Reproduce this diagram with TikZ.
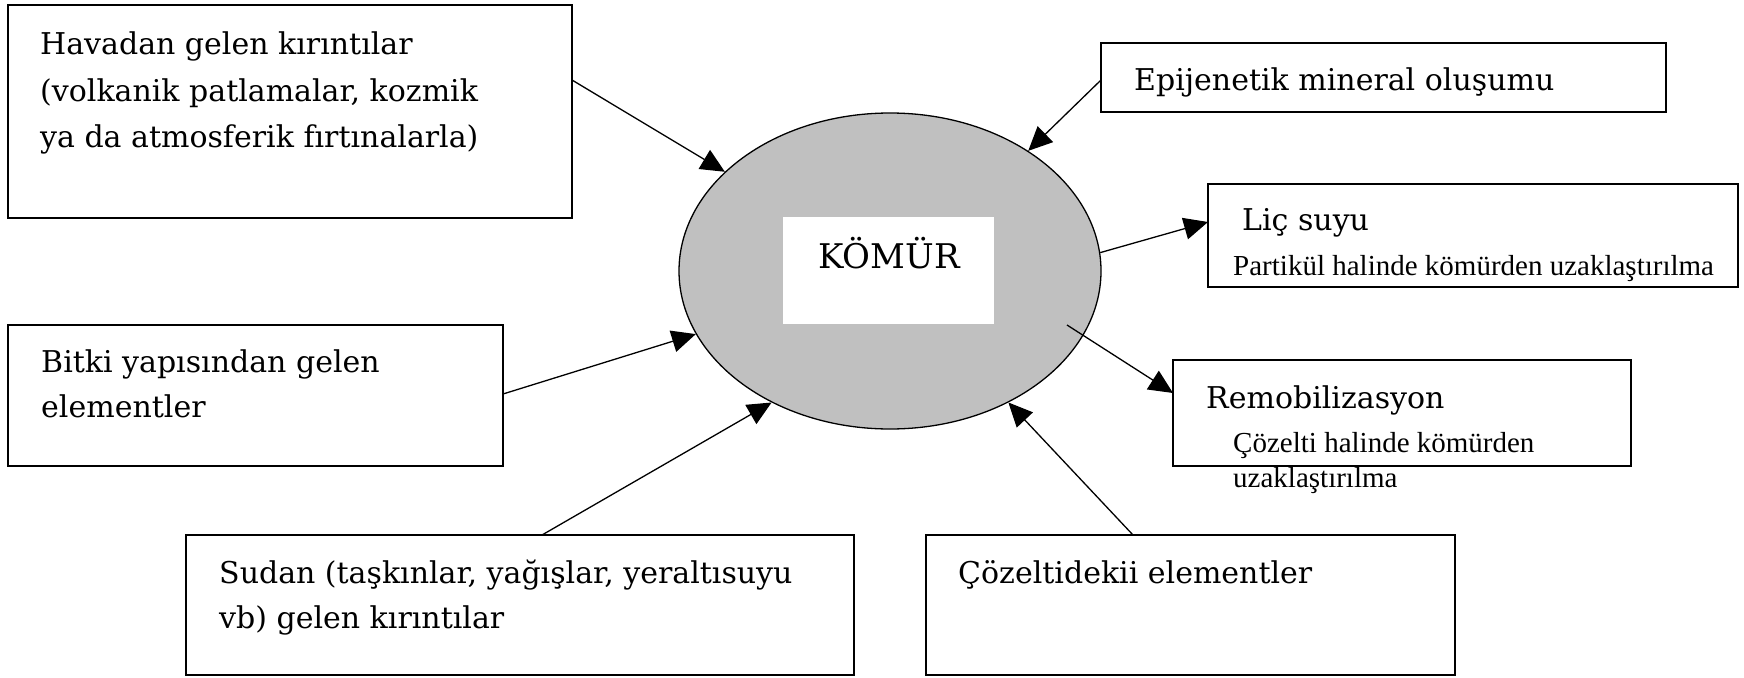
\documentclass[tikz,border=0pt]{standalone}
\usepackage{fontspec}
\setmainfont{DejaVu Serif}
\newfontfamily\timesfont{Liberation Serif}
\usetikzlibrary{shapes.geometric,arrows.meta}
\definecolor{coalgray}{RGB}{192,192,192}
\begin{document}
\begin{tikzpicture}[x=1pt,y=-1pt,
  box/.style={draw=black,line width=1.8pt,inner sep=0pt,rectangle},
  txt/.style={anchor=base west,inner sep=0pt,font=\fontsize{30}{36}\selectfont},
  small/.style={anchor=base west,inner sep=0pt,font=\timesfont\fontsize{29}{34}\selectfont},
  conn/.style={line width=1.3pt,-{Triangle[length=24pt,width=22pt]}}]
\useasboundingbox (0,0) rectangle (1744,677);
% central ellipse
\node[ellipse,draw=black,line width=1.3pt,fill=coalgray,minimum width=422pt,minimum height=316pt,inner sep=0pt] (komur) at (890,271) {};
\node[rectangle,fill=white,minimum width=211pt,minimum height=107pt,inner sep=0pt] (komurbox) at (888.5,270.5) {};
\node[anchor=base,inner sep=0pt,font=\fontsize{34}{40}\selectfont] (komurtxt) at (889,268) {KÖMÜR};
% boxes
\node[box,minimum width=564pt,minimum height=213pt] (havadan) at (290,111.5) {};
\node[box,minimum width=565pt,minimum height=69pt] (epij) at (1383.5,77.5) {};
\node[box,minimum width=530pt,minimum height=103pt] (lic) at (1473,235.5) {};
\node[box,minimum width=458pt,minimum height=106pt] (remob) at (1402,413) {};
\node[box,minimum width=529pt,minimum height=140pt] (cozelti) at (1190.5,605) {};
\node[box,minimum width=495pt,minimum height=141pt] (bitki) at (255.5,395.5) {};
\node[box,minimum width=668pt,minimum height=140pt] (sudan) at (520,605) {};
% texts
\node[txt] (h1) at (40,55) {Havadan gelen kırıntılar};
\node[txt] (h2) at (40,101) {(volkanik patlamalar, kozmik};
\node[txt] (h3) at (40,147) {ya da atmosferik fırtınalarla)};
\node[txt] (e1) at (1134,90) {Epijenetik mineral oluşumu};
\node[txt] (l1) at (1242,230) {Liç suyu};
\node[small] (l2) at (1233,275) {Partikül halinde kömürden uzaklaştırılma};
\node[txt] (r1) at (1206,408) {Remobilizasyon};
\node[small] (r2) at (1233,452) {Çözelti halinde kömürden};
\node[small] (r3) at (1233,487) {uzaklaştırılma};
\node[txt] (c1) at (958,583) {Çözeltidekii elementler};
\node[txt] (b1) at (41,372) {Bitki yapısından gelen};
\node[txt] (b2) at (41,417) {elementler};
\node[txt] (s1) at (219,583) {Sudan (taşkınlar, yağışlar, yeraltısuyu};
\node[txt] (s2) at (219,628) {vb) gelen kırıntılar};
% connector ends
\coordinate (havadanout) at (572,80);
\coordinate (epijout) at (1101,80);
\coordinate (licin) at (1208,222);
\coordinate (remobstart) at (1067,325);
\coordinate (remobin) at (1173,393);
\coordinate (bitkiout) at (503,394);
\coordinate (sudanout) at (542,535);
\coordinate (cozeltiout) at (1133,535);
% connectors
\draw[conn] (havadanout) -- (komur.149);
\draw[conn] (epijout) -- (komur.41);
\draw[conn] (komur.5) -- (licin);
\draw[conn] (remobstart) -- (remobin);
\draw[conn] (bitkiout) -- (komur.198);
\draw[conn] (sudanout) -- (komur.228);
\draw[conn] (cozeltiout) -- (komur.312);
\end{tikzpicture}
\end{document}
